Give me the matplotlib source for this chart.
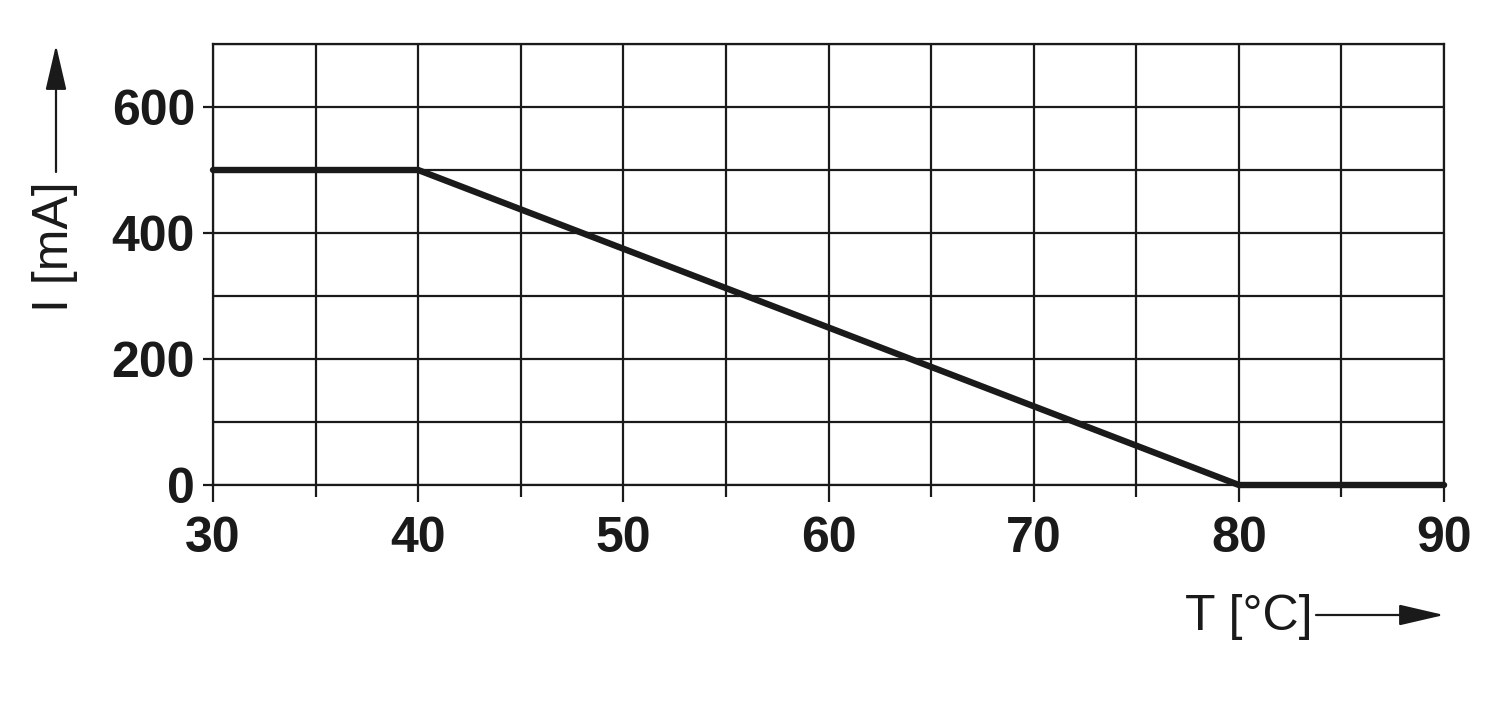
import matplotlib
matplotlib.use("Agg")
import matplotlib.pyplot as plt
from matplotlib.ticker import MultipleLocator

# derating curve
temp = [30, 40, 80, 90]
current = [500, 500, 0, 0]

x_major = [30, 40, 50, 60, 70, 80, 90]
y_major = [0, 200, 400, 600]

ink = '#1a1a1a'
plt.rcParams['font.family'] = ['Liberation Sans', 'DejaVu Sans']

fig = plt.figure(figsize=(15, 7.03), dpi=100)
ax = fig.add_axes([0.142, 0.3101, 0.8207, 0.6273])

ax.set_xlim(30, 90)
ax.set_ylim(0, 700)
ax.set_xticks(x_major)
ax.set_yticks(y_major)
ax.xaxis.set_minor_locator(MultipleLocator(5))
ax.yaxis.set_minor_locator(MultipleLocator(100))

ax.grid(which='both', color=ink, linewidth=1.6)
ax.set_axisbelow(True)
for s in ax.spines.values():
	s.set_color(ink)
	s.set_linewidth(1.6)

ax.tick_params(axis='x', which='major', direction='out', length=12, width=1.6, color=ink, pad=10)
ax.tick_params(axis='x', which='minor', direction='out', length=8.5, width=1.6, color=ink)
ax.tick_params(axis='y', which='major', direction='out', length=7, width=1.6, color=ink, pad=6)
ax.tick_params(axis='y', which='minor', length=0)
for lab in ax.get_xticklabels() + ax.get_yticklabels():
	lab.set_fontsize(36)
	lab.set_fontweight('bold')
	lab.set_color(ink)

ax.plot(temp, current, color=ink, linewidth=4.6, solid_capstyle='round', clip_on=False, zorder=5)

# axis labels with arrows
arrow = dict(arrowstyle='-|>,head_length=2.8,head_width=0.65', color=ink, lw=1.6, shrinkA=0, shrinkB=0)
fig.text(1249 / 1500, 1 - 617 / 703, 'T [°C]', fontsize=36, color=ink, ha='center', va='center')
ax.annotate('', xy=(1444 / 1500, 1 - 615 / 703), xytext=(1316 / 1500, 1 - 615 / 703),
	xycoords='figure fraction', textcoords='figure fraction', arrowprops=arrow)

fig.text(55 / 1500, 1 - 247 / 703, 'I [mA]', fontsize=36, color=ink, ha='center', va='center', rotation=90)
ax.annotate('', xy=(56 / 1500, 1 - 45 / 703), xytext=(56 / 1500, 1 - 172 / 703),
	xycoords='figure fraction', textcoords='figure fraction', arrowprops=arrow)

plt.savefig('out.png', dpi=100)
